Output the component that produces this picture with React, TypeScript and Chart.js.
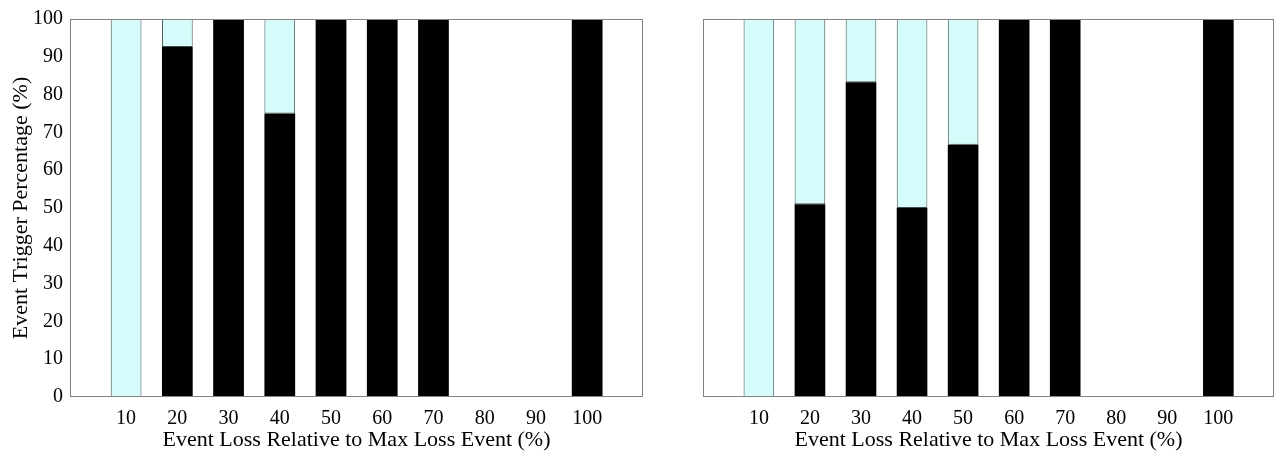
import React, { useEffect, useRef } from 'react';
import { Chart, registerables } from 'chart.js';

Chart.register(...registerables);

// ---- data ----
const categories = [10, 20, 30, 40, 50, 60, 70, 80, 90, 100];
const leftTriggered = [0, 92.6, 100, 75, 100, 100, 100, 0, 0, 100];
const leftRemainder = [100, 7.4, 0, 25, 0, 0, 0, 0, 0, 0];
const rightTriggered = [0, 51, 83.3, 50, 66.7, 100, 100, 0, 0, 100];
const rightRemainder = [100, 49, 16.7, 50, 33.3, 0, 0, 0, 0, 0];
const xTitle = 'Event Loss Relative to Max Loss Event (%)';
const yTitle = 'Event Trigger Percentage (%)';
const yMin = 0;
const yMax = 100;
const yStep = 10;
const xMin = -0.95;
const xMax = 110.9;

const FONT_FAMILY = "'Liberation Serif', 'Times New Roman', serif";
const CYAN = 'rgb(213, 251, 251)';
const CYAN_EDGE = '#3f4f4f';
const BOX = '#808080';

const boxPlugin = {
  id: 'boxFrame',
  afterDraw(chart: any) {
    const { ctx, chartArea: a } = chart;
    ctx.save();
    ctx.strokeStyle = BOX;
    ctx.lineWidth = 1;
    ctx.strokeRect(a.left + 0.5, a.top + 0.5, a.right - a.left - 1, a.bottom - a.top - 1);
    ctx.restore();
  },
};

type PanelProps = {
  width: number;
  height: number;
  left: number;
  triggered: number[];
  remainder: number[];
  showY: boolean;
  yAxisWidth: number;
  padTop: number;
  padRight: number;
};

function Panel(props: PanelProps) {
  const ref = useRef<HTMLCanvasElement | null>(null);
  useEffect(() => {
    if (!ref.current) return;
    const chart = new Chart(ref.current, {
      type: 'bar',
      data: {
        datasets: [
          {
            label: 'Triggered',
            data: categories.map((c, i) => ({ x: c, y: props.triggered[i] })),
            backgroundColor: '#000000',
            borderWidth: 0,
            stack: 's',
            categoryPercentage: 1,
            barPercentage: 0.6,
          },
          {
            label: 'Not triggered',
            data: categories.map((c, i) => ({ x: c, y: props.remainder[i] })),
            backgroundColor: CYAN,
            borderColor: CYAN_EDGE,
            borderWidth: 1,
            borderSkipped: false,
            stack: 's',
            categoryPercentage: 1,
            barPercentage: 0.6,
          },
        ] as any,
      },
      options: {
        animation: false,
        responsive: false,
        events: [],
        layout: { padding: { top: props.padTop, right: props.padRight, left: 0, bottom: 0 } },
        plugins: { legend: { display: false }, tooltip: { enabled: false } },
        scales: {
          x: {
            type: 'linear',
            min: xMin,
            max: xMax,
            offset: false,
            stacked: true,
            grid: { display: false, drawTicks: false },
            border: { display: false },
            afterBuildTicks: (s: any) => {
              s.ticks = categories.map((v) => ({ value: v }));
            },
            afterFit: (s: any) => {
              s.height = 57;
            },
            ticks: {
              autoSkip: false,
              maxRotation: 0,
              padding: 10,
              color: '#000',
              font: { family: FONT_FAMILY, size: 20 },
              callback: (v: any) => String(v),
            },
            title: {
              display: true,
              text: xTitle,
              color: '#000',
              font: { family: FONT_FAMILY, size: 22 },
              padding: { top: 0, bottom: 1 },
            },
          },
          y: {
            type: 'linear',
            min: yMin,
            max: yMax,
            stacked: true,
            grid: { display: false, drawTicks: false },
            border: { display: false },
            afterFit: (s: any) => {
              s.width = props.yAxisWidth;
            },
            ticks: {
              display: props.showY,
              stepSize: yStep,
              padding: 7,
              color: '#000',
              font: { family: FONT_FAMILY, size: 20 },
            },
            title: {
              display: props.showY,
              text: yTitle,
              color: '#000',
              font: { family: FONT_FAMILY, size: 22 },
              padding: { top: 8, bottom: 0 },
            },
          },
        },
      } as any,
      plugins: [boxPlugin],
    });
    return () => chart.destroy();
  }, []);
  return (
    <canvas
      ref={ref}
      width={props.width}
      height={props.height}
      style={{
        position: 'absolute',
        left: props.left,
        top: 0,
        width: props.width,
        height: props.height,
        display: 'block',
      }}
    />
  );
}

export default function App() {
  return (
    <div
      style={{
        position: 'fixed',
        left: 0,
        top: 0,
        width: 1277,
        height: 454,
        background: '#fff',
        overflow: 'hidden',
      }}
    >
      <Panel
        width={660}
        height={454}
        left={0}
        triggered={leftTriggered}
        remainder={leftRemainder}
        showY={true}
        yAxisWidth={70}
        padTop={18}
        padRight={17}
      />
      <Panel
        width={617}
        height={454}
        left={660}
        triggered={rightTriggered}
        remainder={rightRemainder}
        showY={false}
        yAxisWidth={43}
        padTop={19}
        padRight={3}
      />
    </div>
  );
}
